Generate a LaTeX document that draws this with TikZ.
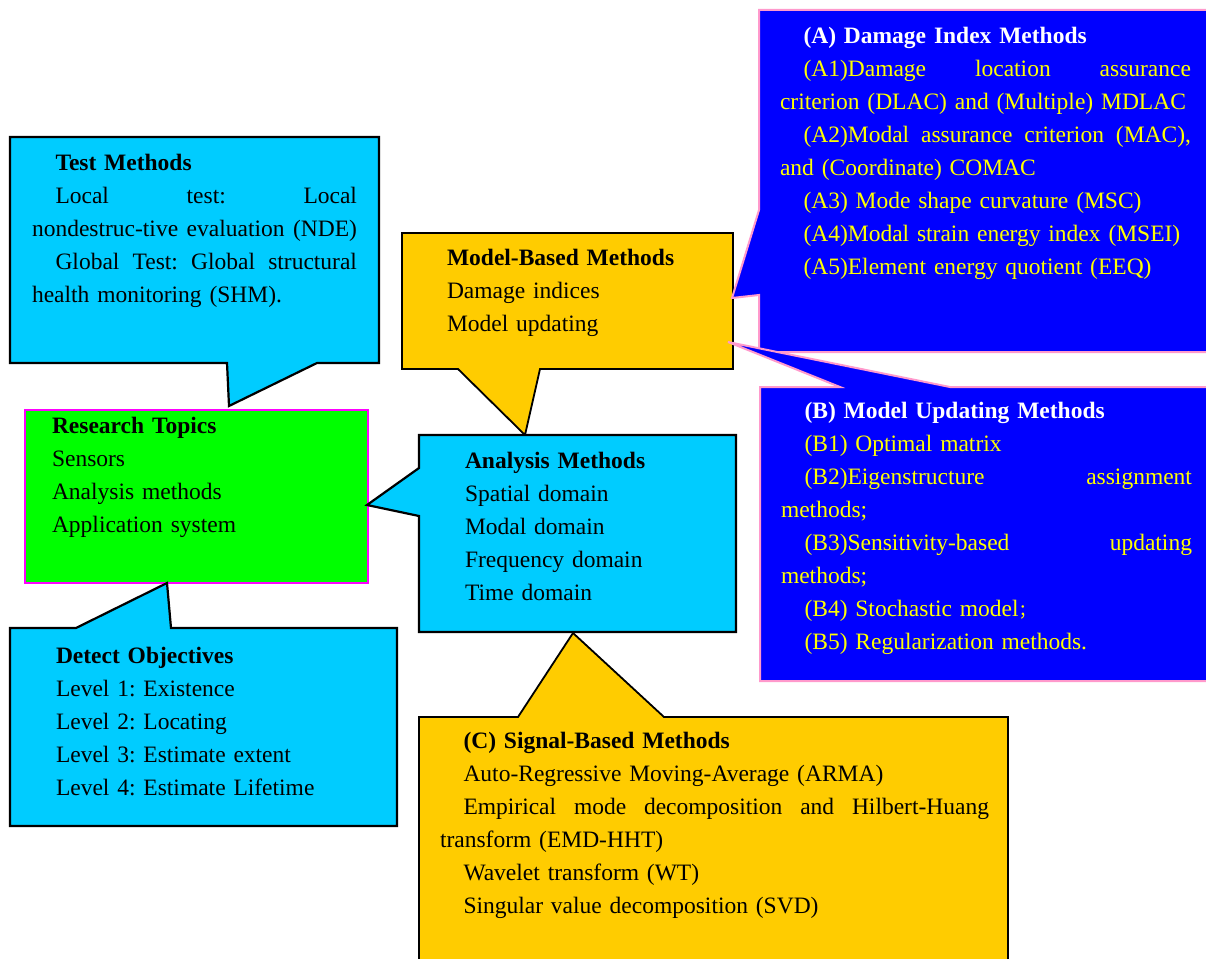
\documentclass[tikz,border=0pt]{standalone}
\usepackage{fontspec}
\setmainfont{Liberation Serif}
\newfontfamily\cjkfont{Noto Sans CJK SC}
\definecolor{skyc}{HTML}{00CCFF}
\definecolor{goldc}{HTML}{FFCC00}
\definecolor{greenc}{HTML}{00FF00}
\definecolor{magc}{HTML}{FF00FF}
\definecolor{bluec}{HTML}{0000FF}
\definecolor{pinkc}{HTML}{FF99CC}
\definecolor{yelc}{HTML}{FFFF00}
\newcommand\js{\hskip 0.25em plus 1fill\relax}
\newcommand\myind{\hspace*{1em}}
\frenchspacing
\tikzset{
  skybox/.style={fill=skyc, draw=black, line width=2.2pt, line join=miter},
  goldbox/.style={fill=goldc, draw=black, line width=1.8pt, line join=miter},
  greenbox/.style={fill=greenc, draw=magc, line width=2pt},
  bluebox/.style={fill=bluec, draw=pinkc, line width=2pt, line join=miter},
  txt/.style={anchor=north west, inner sep=0pt, outer sep=0pt, align=left,
    font=\fontsize{23.5}{33}\selectfont\frenchspacing},
  ytxt/.style={txt, text=yelc}
}
\begin{document}
\begin{tikzpicture}[x=1pt,y=-1pt]
\clip (0,0) rectangle (1206,958);
\fill[white] (0,0) rectangle (1206,958);

% Test Methods callout
\draw[skybox] (10,137) -- (379,137) -- (379,363) -- (317,363) -- (229,406) -- (227,363) -- (10,363) -- cycle;
\node[txt, text width=325pt] (tm) at (32,147) {\myind\strut\textbf{Test Methods}\\
\myind Local\js test:\js Local\\
nondestruc-tive\js evaluation\js (NDE)\\
\myind Global\js Test:\js Global\js structural\\
health monitoring (SHM).};

% Research Topics
\draw[greenbox] (25,410) rectangle (368,583);
\node[txt, text width=300pt] (rt) at (52,410.5) {\strut\textbf{Research Topics}\\
Sensors\\
Analysis methods\\
Application system};

% Detect Objectives
\draw[skybox] (10,628) -- (76,628) -- (167,583) -- (171,628) -- (397,628) -- (397,826) -- (10,826) -- cycle;
\node[txt, text width=330pt] (do) at (56,640) {\strut\textbf{Detect Objectives}\\
Level 1: Existence\\
Level 2: Locating\\
Level 3: Estimate extent\\
Level 4: Estimate Lifetime};

% Model-Based Methods
\draw[goldbox] (402,233) -- (733,233) -- (733,369) -- (540,369) -- (525,435) -- (458,369) -- (402,369) -- cycle;
\node[txt, text width=280pt] (mb) at (447,242) {\strut\textbf{Model-Based Methods}\\
Damage indices\\
Model updating};

% Analysis Methods
\draw[skybox] (419,435) -- (736,435) -- (736,632) -- (419,632) -- (419,516) -- (367,505) -- (419,468) -- cycle;
\node[txt, text width=260pt] (am) at (465,445) {\strut\textbf{Analysis Methods}\\
Spatial domain\\
Modal domain\\
Frequency domain\\
Time domain};

% (A) Damage Index Methods
\draw[bluebox] (759,10) -- (1220,10) -- (1220,352) -- (759,352) -- (759,295) -- (732,298) -- (759,210) -- cycle;
\node[ytxt, text width=411pt] (dim) at (780,20.5) {\myind\strut\textcolor{white}{\textbf{(A) Damage Index Methods}}\\
\myind(A1)Damage\js location\js assurance\\
criterion (DLAC) and (Multiple) MDLAC\\
\myind(A2)Modal\js assurance\js criterion\js (MAC),\\
and (Coordinate) COMAC\\
\myind(A3) Mode shape curvature (MSC)\\
\myind(A4)Modal strain energy index (MSEI)\\
\myind(A5)Element energy quotient (EEQ)};

% (B) Model Updating Methods
\draw[bluebox] (760,387) -- (840,387) -- (728,342) -- (950,387) -- (1220,387) -- (1220,681) -- (760,681) -- cycle;
\node[ytxt, text width=411pt] (mum) at (781,395.5) {\myind\strut\textcolor{white}{\textbf{(B) Model Updating Methods}}\\
\myind(B1) Optimal matrix\\
\myind(B2)Eigenstructure\js assignment\\
methods;\\
\myind(B3)Sensitivity-based\js updating\\
methods;\\
\myind(B4) Stochastic model{\cjkfont\fontsize{17}{33}\selectfont ；}\\
\myind(B5) Regularization methods.};

% (C) Signal-Based Methods
\draw[goldbox] (419,717) -- (518,717) -- (573,633) -- (664,717) -- (1008,717) -- (1008,975) -- (419,975) -- cycle;
\node[txt, text width=549pt] (sbm) at (440,725.5) {\myind\strut\textbf{(C) Signal-Based Methods}\\
\myind Auto-Regressive Moving-Average (ARMA)\\
\myind Empirical\js mode\js decomposition\js and\js Hilbert-Huang\\
transform (EMD-HHT)\\
\myind Wavelet transform (WT)\\
\myind Singular value decomposition (SVD)};
\end{tikzpicture}
\end{document}
